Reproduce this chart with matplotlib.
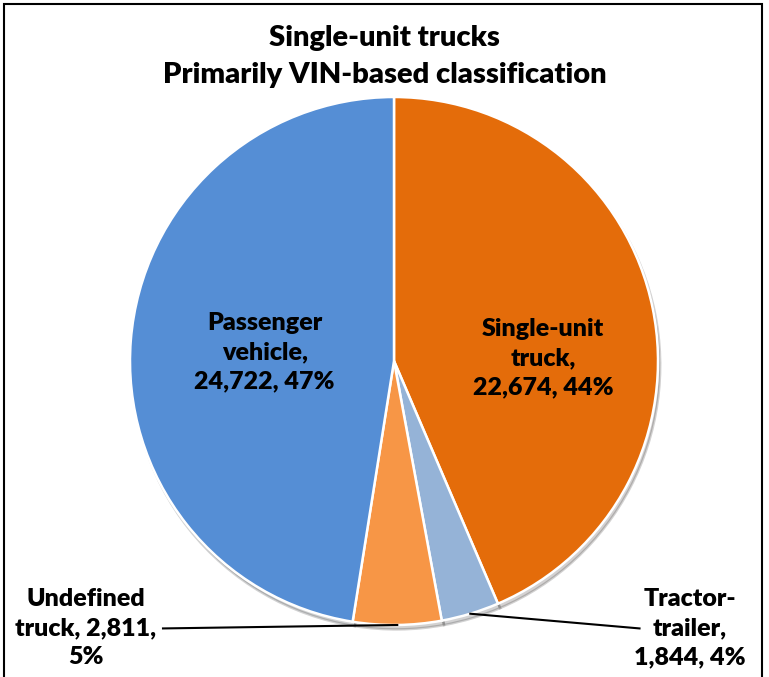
import matplotlib.pyplot as plt
from matplotlib.patches import Rectangle
import numpy as np

plt.rcParams['font.family'] = ['Lato', 'DejaVu Sans']

categories = ['Single-unit truck', 'Tractor-trailer', 'Undefined truck', 'Passenger vehicle']
counts = [22674, 1844, 2811, 24722]
percents = [44, 4, 5, 47]
colors = ['#E46C0A', '#95B3D7', '#F79646', '#558ED5']

fig = plt.figure(figsize=(7.69, 6.77), dpi=100)
W, H = 769, 677
cx, cy, r = 394, 361, 264  # pie centre / radius in pixels from top-left
ax = fig.add_axes([(cx - r) / W, (H - cy - r) / H, 2 * r / W, 2 * r / H])

wedges, _ = ax.pie(counts, colors=colors, startangle=90, counterclock=False,
                   wedgeprops=dict(edgecolor='white', linewidth=1.8),
                   shadow=dict(ox=0.006, oy=-0.012, shade=0.95, alpha=0.18))
ax.set_xlim(-1, 1)
ax.set_ylim(-1, 1)
ax.set_aspect('equal')
ax.axis('off')

fs = 18
ls = 1.4
txt = dict(ha='center', va='center', fontsize=fs, fontweight='heavy',
           linespacing=ls, clip_on=False)

# inside labels
ax.text(0.565, 0.011, f'Single-unit\ntruck,\n{counts[0]:,}, {percents[0]}%', **txt)
ax.text(-0.49, 0.034, f'Passenger\nvehicle,\n{counts[3]:,}, {percents[3]}%', **txt)

# outside labels with leader lines
def mid_point(w):
    a = np.deg2rad((w.theta1 + w.theta2) / 2)
    return np.cos(a), np.sin(a)

ax.text(-1.167, -1.011, f'Undefined\ntruck, {counts[2]:,},\n{percents[2]}%', **txt)
mx, my = mid_point(wedges[2])
ax.plot([-0.875, mx], [-1.013, my], color='black', lw=1.5, clip_on=False)

ax.text(1.12, -1.011, f'Tractor-\ntrailer,\n{counts[1]:,}, {percents[1]}%', **txt)
mx, my = mid_point(wedges[1])
ax.plot([0.93, mx], [-1.013, my], color='black', lw=1.5, clip_on=False)

fig.text(0.5, 1 - 38 / H, 'Single-unit trucks', ha='center', va='center',
         fontsize=21, fontweight='heavy')
fig.text(0.5, 1 - 75 / H, 'Primarily VIN-based classification', ha='center', va='center',
         fontsize=21, fontweight='heavy')

fig.patches.append(Rectangle((4 / W, -0.02), 758 / W, 1 - 4 / H + 0.02,
                             transform=fig.transFigure, fill=False,
                             edgecolor='black', linewidth=1.5))

fig.savefig('out.png', dpi=100)
